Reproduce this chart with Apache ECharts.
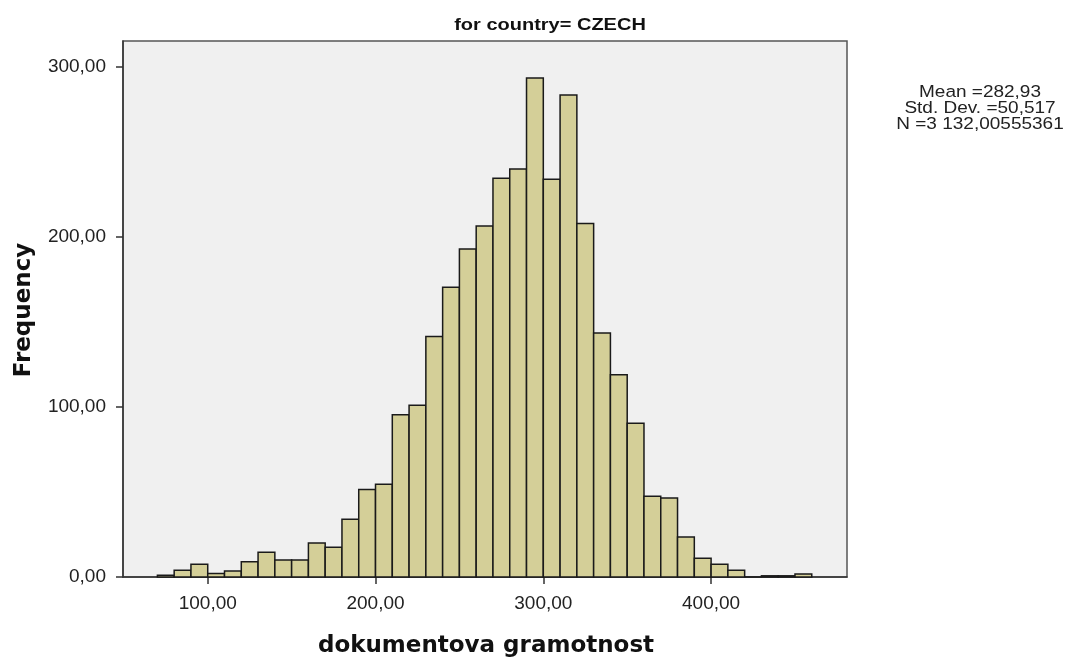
<!DOCTYPE html>
<html>
<head>
<meta charset="utf-8">
<script src="https://cdn.jsdelivr.net/npm/echarts@6/dist/echarts.min.js"></script>
<style>html,body{margin:0;padding:0;background:#fff}#c{width:1066px;height:659px}</style>
</head>
<body>
<div id="c"></div>
<script>
// bin lower edges (width 10) and frequencies
const binStarts = [70,80,90,100,110,120,130,140,150,160,170,180,190,200,210,220,230,240,250,260,270,280,290,300,310,320,330,340,350,360,370,380,390,400,410,420,430,440,450];
const frequencies = [1,4,7.5,2,3.5,9,14.5,10,10,20,17.5,34,51.5,54.5,95.5,101,141.5,170.5,193,206.5,234.5,240,293.5,234,283.5,208,143.5,119,90.5,47.5,46.5,23.5,11,7.5,4,0,0.7,0.7,1.8];
const binWidth = 10;
const xTicks = [100,200,300,400];
const yTicks = [0,100,200,300];
const titleText = 'for country= CZECH';
const statsLines = ['Mean =282,93','Std. Dev. =50,517','N =3 132,00555361'];
const xName = 'dokumentova gramotnost';
const yName = 'Frequency';

const fmt = v => v.toFixed(2).replace('.', ',');
const chart = echarts.init(document.getElementById('c'), null, {renderer:'canvas'});
const data = binStarts.map((s,i)=>[s, s+binWidth, frequencies[i]]);
const font = '"Liberation Sans", Arial, sans-serif';

chart.setOption({
  animation:false,
  backgroundColor:'#fff',
  grid:{left:123,right:219,top:41,bottom:82,show:true,backgroundColor:'#f0f0f0',borderColor:'#555',borderWidth:1.5},
  xAxis:{type:'value',min:49.5,max:481,
    axisLine:{show:true,onZero:false,lineStyle:{color:'#333',width:1.5}},
    axisTick:{show:true,customValues:xTicks,length:7,lineStyle:{color:'#333',width:1.5}},
    axisLabel:{customValues:xTicks,formatter:fmt,color:'#222',fontSize:19,fontFamily:font,margin:17},
    splitLine:{show:false}},
  yAxis:{type:'value',min:0,max:315.3,
    axisLine:{show:true,lineStyle:{color:'#333',width:1.5}},
    axisTick:{show:true,customValues:yTicks,length:7,lineStyle:{color:'#333',width:1.5}},
    axisLabel:{customValues:yTicks,formatter:fmt,color:'#222',fontSize:19,fontFamily:font,margin:17},
    splitLine:{show:false}},
  series:[{type:'custom',
    renderItem:function(params, api){
      const p0 = api.coord([api.value(0), api.value(2)]);
      const p1 = api.coord([api.value(1), 0]);
      return {type:'rect',shape:{x:p0[0],y:p0[1],width:p1[0]-p0[0],height:p1[1]-p0[1]},
        style:{fill:'#d4cf98',stroke:'#1a1a1a',lineWidth:1.5}};
    },
    encode:{x:[0,1],y:2},
    data:data}],
  graphic:[
    {type:'text',x:550,y:25,scaleY:0.85,style:{text:titleText,x:0,y:0,font:'bold 20px '+font,fill:'#111',textAlign:'center',textVerticalAlign:'middle'}},
    {type:'text',x:486,y:646,style:{text:xName,x:0,y:0,font:'bold 23px "DejaVu Sans", '+font,fill:'#111',textAlign:'center',textVerticalAlign:'middle'}},
    {type:'text',rotation:Math.PI/2,x:24,y:310,style:{text:yName,x:0,y:0,font:'bold 23px "DejaVu Sans", '+font,fill:'#111',textAlign:'center',textVerticalAlign:'middle'}},
    {type:'text',x:980,y:84,scaleY:0.85,style:{text:statsLines.join('\n'),x:0,y:0,font:'19px '+font,fill:'#222',textAlign:'center',textVerticalAlign:'top',lineHeight:19}}
  ]
});
</script>
</body>
</html>
